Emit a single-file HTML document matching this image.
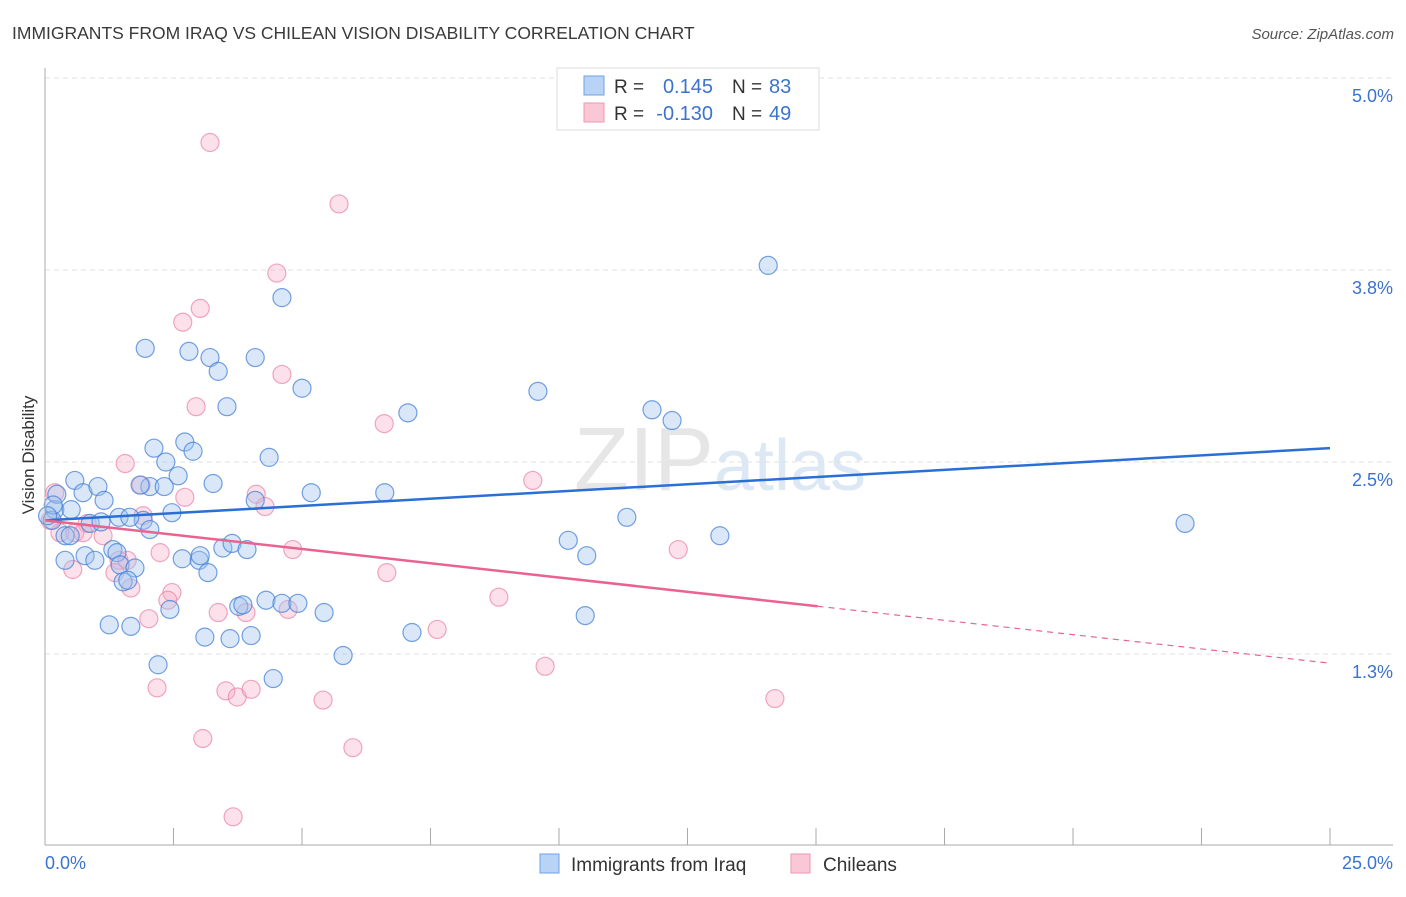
<!DOCTYPE html>
<html><head><meta charset="utf-8"><style>
body{margin:0;background:#fff;font-family:"Liberation Sans",sans-serif}
svg text{font-family:"Liberation Sans",sans-serif}
</style></head><body>
<svg id="chart" width="1406" height="892" xmlns="http://www.w3.org/2000/svg">
<text x="12" y="39" font-size="17.5" fill="#3a3a3a">IMMIGRANTS FROM IRAQ VS CHILEAN VISION DISABILITY CORRELATION CHART</text>
<text x="1394" y="39" font-size="15" fill="#555" font-style="italic" text-anchor="end">Source: ZipAtlas.com</text>
<text x="720" y="490" font-size="90" fill="#e8e8e8" text-anchor="middle" font-family="Liberation Serif"><tspan fill="#e6e6e6">ZIP</tspan><tspan fill="#dde8f5" font-family="Liberation Sans" font-size="72">atlas</tspan></text>
<text transform="translate(34,455) rotate(-90)" font-size="17" fill="#333" text-anchor="middle">Vision Disability</text>
<g id="grid"></g><g id="pts"></g><g id="trend"></g><g id="axes"></g>
<g>
<rect x="557" y="68" width="262" height="62" fill="#fff" stroke="#ddd"/>
<rect x="584" y="76" width="20" height="19" fill="#b8d3f5" stroke="#6fa1e6"/>
<rect x="584" y="103" width="20" height="19" fill="#f9c7d5" stroke="#ee97b1"/>
<text x="614" y="93" font-size="19" fill="#333">R =</text><text x="713" y="93" font-size="20" fill="#3b73cf" text-anchor="end">0.145</text>
<text x="732" y="93" font-size="19" fill="#333">N =</text><text x="769" y="93" font-size="20" fill="#3b73cf">83</text>
<text x="614" y="120" font-size="19" fill="#333">R =</text><text x="713" y="120" font-size="20" fill="#3b73cf" text-anchor="end">-0.130</text>
<text x="732" y="120" font-size="19" fill="#333">N =</text><text x="769" y="120" font-size="20" fill="#3b73cf">49</text>
</g>
<g>
<rect x="540" y="854" width="19" height="19" fill="#b8d3f5" stroke="#6fa1e6"/>
<text x="571" y="871" font-size="19" fill="#333">Immigrants from Iraq</text>
<rect x="791" y="854" width="19" height="19" fill="#f9c7d5" stroke="#ee97b1"/>
<text x="823" y="871" font-size="19" fill="#333">Chileans</text>
</g>
</svg>
<script>
const yTicks=[1.25,2.5,3.75,5.0];
const yTickLabels=["1.3%","2.5%","3.8%","5.0%"];
const xTickLabels=["0.0%","25.0%"];
const iraqX=[.19,.14,.23,.16,.39,.49,.58,.51,.74,1.03,1.15,.88,1.09,1.44,1.91,2.47,2.04,.39,.78,.97,1.32,1.40,1.46,1.75,1.52,1.61,1.25,1.67,1.95,2.80,3.21,3.37,4.09,3.54,2.12,2.35,2.72,2.88,2.59,2.04,2.32,1.85,3.27,4.09,4.36,5.18,4.61,5.00,6.61,7.06,9.59,11.81,12.20,14.07,11.32,10.18,10.54,13.13,22.18,2.67,3.00,3.17,3.46,3.64,3.93,2.43,3.11,3.60,4.01,3.77,3.85,4.30,4.61,4.92,5.43,5.80,2.20,4.44,7.14,10.51,3.02,1.65,0.05];
const iraqY=[2.19,2.12,2.29,2.22,2.02,2.02,2.38,2.19,2.30,2.34,2.25,2.10,2.11,2.14,2.12,2.17,2.06,1.86,1.89,1.86,1.93,1.91,1.83,1.81,1.72,1.73,1.44,1.43,3.24,3.22,3.18,3.09,3.18,2.86,2.59,2.50,2.63,2.57,2.41,2.34,2.34,2.35,2.36,2.25,2.53,2.30,3.57,2.98,2.30,2.82,2.96,2.84,2.77,3.78,2.14,1.99,1.89,2.02,2.10,1.87,1.86,1.78,1.94,1.97,1.93,1.54,1.36,1.35,1.37,1.56,1.57,1.60,1.58,1.58,1.52,1.24,1.18,1.09,1.39,1.50,1.89,2.14,2.15];
const chileX=[3.21,5.72,4.51,3.02,2.68,4.61,2.94,6.60,1.56,1.87,2.72,4.11,4.28,1.91,.82,.29,.58,1.13,.74,1.44,1.60,1.36,1.67,.54,2.24,4.82,6.65,2.47,2.39,3.37,3.91,4.73,2.02,9.49,12.32,8.83,7.63,2.18,3.52,3.74,4.01,5.41,9.73,14.20,3.07,5.99,3.66,.19,.10];
const chileY=[4.58,4.18,3.73,3.50,3.41,3.07,2.86,2.75,2.49,2.35,2.27,2.29,2.21,2.15,2.10,2.04,2.04,2.02,2.04,1.86,1.86,1.78,1.68,1.80,1.91,1.93,1.78,1.65,1.60,1.52,1.52,1.54,1.48,2.38,1.93,1.62,1.41,1.03,1.01,.97,1.02,.95,1.17,.96,.70,.64,.19,2.30,2.12];
const iraqTrend=[2.12,2.59];
const chileTrend=[2.12,1.19];
const chileSolidEnd=15.03;
const NS="http://www.w3.org/2000/svg";
const X=v=>45+v*51.4, Y=v=>654-(v-1.25)*153.6;
function mk(t,a,p){const e=document.createElementNS(NS,t);for(const k in a)e.setAttribute(k,a[k]);p.appendChild(e);return e;}
const grid=document.getElementById('grid'),axes=document.getElementById('axes'),pts=document.getElementById('pts'),tr=document.getElementById('trend');
yTicks.forEach((t,i)=>{
 const l=mk('line',{x1:45,x2:1393,y1:Y(t),y2:Y(t),stroke:'#e2e2e2','stroke-dasharray':'5,4'},grid);
 
 
 const tx=mk('text',{x:1393,y:Y(t)+24,'font-size':18,fill:'#3b73cf','text-anchor':'end'},axes);tx.textContent=yTickLabels[i];
 
 
});
mk('line',{x1:45,x2:45,y1:68,y2:845,stroke:'#aaa'},axes);
mk('line',{x1:45,x2:1393,y1:845,y2:845,stroke:'#aaa'},axes);
for(let i=1;i<=10;i++){const tk=mk('line',{x1:X(i*2.5),x2:X(i*2.5),y1:828,y2:845,stroke:'#aaa'},axes);
 
 }
let a=mk('text',{x:45,y:869,'font-size':18,fill:'#3b73cf'},axes);a.textContent=xTickLabels[0];


a=mk('text',{x:1393,y:869,'font-size':18,fill:'#3b73cf','text-anchor':'end'},axes);a.textContent=xTickLabels[1];


chileX.forEach((x,i)=>{const c=mk('circle',{cx:X(x),cy:Y(chileY[i]),r:9,fill:'rgba(246,170,195,0.35)',stroke:'rgba(235,130,165,0.7)','stroke-width':1.2},pts);
 
 });
iraqX.forEach((x,i)=>{const c=mk('circle',{cx:X(x),cy:Y(iraqY[i]),r:9,fill:'rgba(160,195,240,0.4)',stroke:'rgba(70,130,215,0.75)','stroke-width':1.2},pts);
 
 });
let t=mk('line',{x1:X(0),y1:Y(iraqTrend[0]),x2:X(25),y2:Y(iraqTrend[1]),stroke:'#2a6fd6','stroke-width':2.5},tr);


const cy=x=>chileTrend[0]+(chileTrend[1]-chileTrend[0])*x/25;
t=mk('line',{x1:X(0),y1:Y(cy(0)),x2:X(chileSolidEnd),y2:Y(cy(chileSolidEnd)),stroke:'#e8648e','stroke-width':2.5},tr);


t=mk('line',{x1:X(chileSolidEnd),y1:Y(cy(chileSolidEnd)),x2:X(25),y2:Y(cy(25)),stroke:'#e8648e','stroke-width':1.2,'stroke-dasharray':'6,5'},tr);


</script>
</body></html>
